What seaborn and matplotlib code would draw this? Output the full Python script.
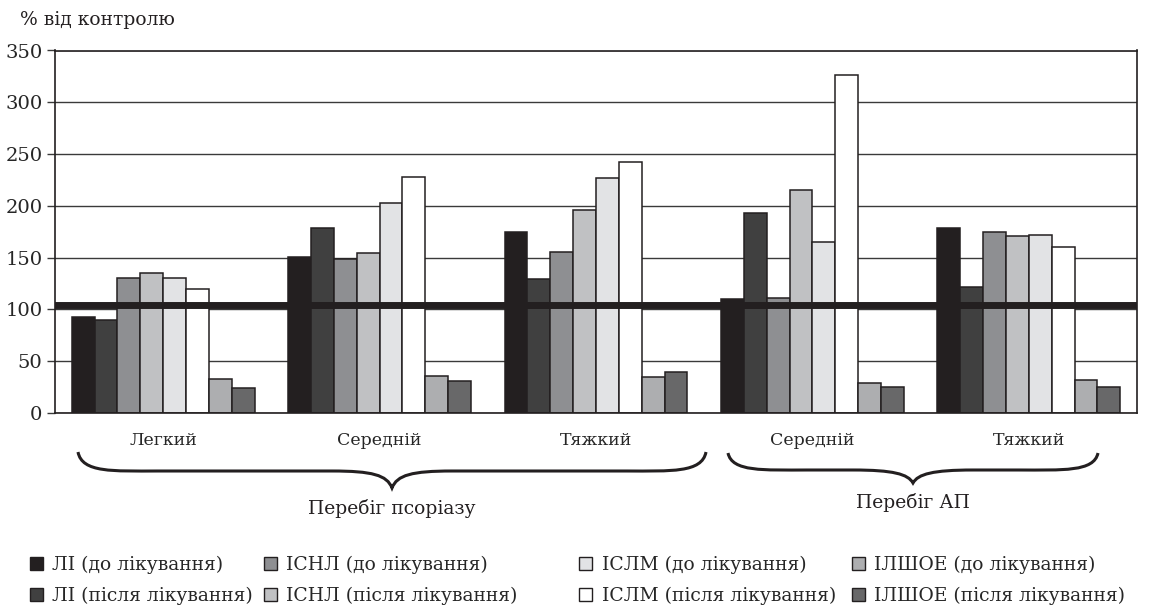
import numpy as np
import pandas as pd
import seaborn as sns
import matplotlib.pyplot as plt
from matplotlib.path import Path
from matplotlib.patches import PathPatch, Patch

# дані, % від контролю
groups = ["Легкий", "Середній", "Тяжкий", "Середній", "Тяжкий"]
group_ids = ["g1", "g2", "g3", "g4", "g5"]

indicators = [
    "ЛІ (до лікування)", "ЛІ (після лікування)",
    "ІСНЛ (до лікування)", "ІСНЛ (після лікування)",
    "ІСЛМ (до лікування)", "ІСЛМ (після лікування)",
    "ІЛШОЕ (до лікування)", "ІЛШОЕ (після лікування)",
]

li_do = [93, 151, 175, 110, 179]
li_pislia = [90, 179, 129, 193, 122]
isnl_do = [130, 149, 155, 111, 175]
isnl_pislia = [135, 154, 196, 215, 171]
islm_do = [130, 203, 227, 165, 172]
islm_pislia = [120, 228, 242, 326, 160]
ilshoe_do = [33, 36, 35, 29, 32]
ilshoe_pislia = [24, 31, 40, 25, 25]

control_level = 104

colors = ["#231f20", "#404040", "#8e8f92", "#c0c1c3",
          "#e2e3e5", "#ffffff", "#adaeb0", "#686869"]

series = [li_do, li_pislia, isnl_do, isnl_pislia,
          islm_do, islm_pislia, ilshoe_do, ilshoe_pislia]

rows = []
for name, vals in zip(indicators, series):
    for gid, v in zip(group_ids, vals):
        rows.append({"група": gid, "показник": name, "значення": v})
df = pd.DataFrame(rows)

sns.set_style("white")
plt.rcParams["font.family"] = ["DejaVu Serif"]

W, H = 1156, 610
fig = plt.figure(figsize=(W / 100, H / 100), dpi=100)
ax = fig.add_axes([55 / W, 1 - 413 / H, (1137 - 55) / W, (413 - 50.5) / H])

sns.barplot(
    data=df, x="група", y="значення", hue="показник",
    order=group_ids, hue_order=indicators,
    palette=dict(zip(indicators, colors)),
    width=0.845, gap=0, edgecolor="#231f20", linewidth=1.1,
    saturation=1, errorbar=None, ax=ax, zorder=2,
)

ax.set_ylim(0, 350)
ax.set_xlim(-0.5, 4.5)
ax.set_yticks(np.arange(0, 351, 50))
ax.yaxis.grid(True, color="#3a3a3a", linewidth=1.0, zorder=0)
ax.set_axisbelow(True)
ax.axhline(control_level, color="#231f20", linewidth=5, zorder=3)

for s in ["left", "right", "top", "bottom"]:
    ax.spines[s].set_visible(True)
    ax.spines[s].set_color("#231f20")
    ax.spines[s].set_linewidth(1.2)

ax.tick_params(axis="y", length=6, width=1, color="#3a3a3a",
               labelsize=14, pad=3, direction="out", left=True)
ax.tick_params(axis="x", length=0, labelsize=12.5, pad=14)
ax.set_xticks(range(len(groups)))
ax.set_xticklabels(groups)
ax.set_xlabel("")
ax.set_ylabel("")
ax.get_legend().remove()

fig.text(20 / W, 1 - 20 / H, "% від контролю", fontsize=13.5,
         ha="left", va="center", color="#231f20")


def brace(x0, x1, ytop, ymid, ytip):
    xc = (x0 + x1) / 2
    pts = [
        (x0, ytop), (x0 + 4, ymid + 2), (x0 + 35, ymid), (x0 + 80, ymid),
        (xc - 60, ymid),
        (xc - 20, ymid), (xc - 5, ymid + 4), (xc, ytip),
        (xc + 5, ymid + 4), (xc + 20, ymid), (xc + 60, ymid),
        (x1 - 80, ymid),
        (x1 - 35, ymid), (x1 - 4, ymid + 2), (x1, ytop),
    ]
    codes = [Path.MOVETO, Path.CURVE4, Path.CURVE4, Path.CURVE4,
             Path.LINETO,
             Path.CURVE4, Path.CURVE4, Path.CURVE4,
             Path.CURVE4, Path.CURVE4, Path.CURVE4,
             Path.LINETO,
             Path.CURVE4, Path.CURVE4, Path.CURVE4]
    verts = [(x / W, 1 - y / H) for x, y in pts]
    fig.add_artist(PathPatch(Path(verts, codes), facecolor="none",
                             edgecolor="#231f20", linewidth=2.2,
                             transform=fig.transFigure))


brace(78, 706, 452, 471, 488)
brace(728, 1098, 453, 470, 483)

fig.text(392 / W, 1 - 509 / H, "Перебіг псоріазу", fontsize=13.5,
         ha="center", va="center", color="#231f20")
fig.text(913 / W, 1 - 502 / H, "Перебіг АП", fontsize=13.5,
         ha="center", va="center", color="#231f20")

# легенда: чотири колонки по два записи
col_x = [30, 264, 579, 852]
for i, cx in enumerate(col_x):
    handles = [Patch(facecolor=colors[j], edgecolor="#231f20", linewidth=1)
               for j in (2 * i, 2 * i + 1)]
    labels = [indicators[2 * i], indicators[2 * i + 1]]
    fig.legend(handles, labels, loc="upper left",
               bbox_to_anchor=(cx / W, 1 - 556 / H),
               frameon=False, fontsize=13.5, handlelength=0.7,
               handleheight=0.7, handletextpad=0.5, labelspacing=0.65,
               borderaxespad=0, borderpad=0)

plt.savefig("out.png", dpi=100)
plt.close()
